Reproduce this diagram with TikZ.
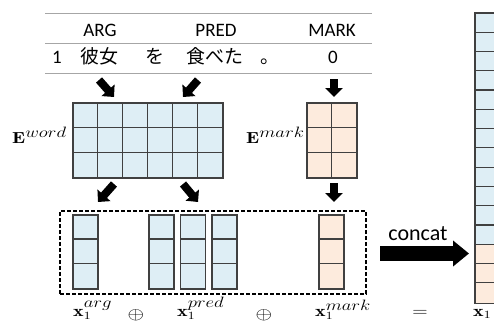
\RequirePackage{fix-cm}
\documentclass[tikz,border=0pt]{standalone}
\usepackage{graphicx}
\usepackage{fontspec}
\newfontfamily\calfont{Carlito}
\newfontfamily\jpfont{Noto Sans CJK JP}
\DeclareMathSizes{16}{16}{15}{11}
\DeclareMathSizes{17}{17}{14}{11}
\usetikzlibrary{arrows.meta}
\definecolor{cellblue}{HTML}{DEEEF5}
\definecolor{cellorange}{HTML}{FDEBDD}
\definecolor{cellline}{HTML}{404040}
\definecolor{rulegray}{HTML}{A6A6A6}
\newcommand{\wlab}[1]{\scalebox{1.25}[1]{#1}}
\newcommand{\xvec}[1]{\mathbf{x}_{\scriptscriptstyle 1}^{#1}}
\begin{document}
\begin{tikzpicture}[x=1pt,y=-1pt,
  hdr/.style={font=\calfont\fontsize{19}{22}\selectfont, anchor=base, inner sep=0pt},
  jp/.style={font=\jpfont\fontsize{19}{22}\selectfont, anchor=base, inner sep=0pt},
  blk/.style={line width=8pt, -{Triangle[length=9pt,width=17pt]}},
  mlabel/.style={font=\fontsize{16}{20}\selectfont, anchor=base west, inner sep=0pt},
  opnode/.style={font=\fontsize{17}{20}\selectfont, inner sep=0pt},
  matbox/.style={draw=cellline, line width=1.2pt, inner sep=0pt},
  grid line/.style={draw=cellline, line width=1.2pt},
  rule/.style={draw=rulegray, line width=1pt}]
\clip (0,0) rectangle (494,324);
\fill[white] (0,0) rectangle (494,324);
% table rules
\coordinate (r1a) at (45,13); \coordinate (r1b) at (372,13);
\coordinate (r2a) at (45,43); \coordinate (r2b) at (372,43);
\coordinate (r3a) at (45,73); \coordinate (r3b) at (372,73);
\draw[rule] (r1a) -- (r1b);
\draw[rule] (r2a) -- (r2b);
\draw[rule] (r3a) -- (r3b);
% headers
\node[hdr] (hArg) at (100,36) {ARG};
\node[hdr] (hPred) at (216,36) {PRED};
\node[hdr] (hMark) at (332,36) {MARK};
% row
\node[hdr] (one) at (57,63) {1};
\node[jp] (kanojo) at (99,63) {彼女};
\node[jp] (wo) at (155,63) {を};
\node[jp] (tabeta) at (215,63) {食べた};
\node[jp] (maru) at (270,63) {。};
\node[hdr] (zero) at (333,63) {0};
% E word matrix
\node[matbox, fill=cellblue, minimum width=150pt, minimum height=75pt] (Ew) at (148,140.5) {};
\foreach \i in {1,...,5} \draw[grid line] ([xshift=\i*25pt]Ew.north west) -- ([xshift=\i*25pt]Ew.south west);
\foreach \j in {1,2} \draw[grid line] ([yshift=-\j*25pt]Ew.north west) -- ([yshift=-\j*25pt]Ew.north east);
\node[matbox, fill=none, minimum width=150pt, minimum height=75pt] at (Ew) {};
% E mark matrix
\node[matbox, fill=cellorange, minimum width=50pt, minimum height=75pt] (Em) at (332,140.5) {};
\draw[grid line] ([xshift=25pt]Em.north west) -- ([xshift=25pt]Em.south west);
\foreach \j in {1,2} \draw[grid line] ([yshift=-\j*25pt]Em.north west) -- ([yshift=-\j*25pt]Em.north east);
% labels
\node[mlabel] (lEw) at (12,143) {\wlab{$\mathbf{E}^{word}$}};
\node[mlabel] (lEm) at (246,143) {\wlab{$\mathbf{E}^{mark}$}};
% arrows top
\coordinate (a1s) at (99,80); \coordinate (a1e) at (114,97);
\coordinate (a2s) at (198,80); \coordinate (a2e) at (183,97);
\coordinate (a3s) at (334,79); \coordinate (a3e) at (334,97);
\draw[blk] (a1s) -- (a1e);
\draw[blk] (a2s) -- (a2e);
\draw[blk] (a3s) -- (a3e);
% arrows bottom
\coordinate (b1s) at (114,184); \coordinate (b1e) at (98,202);
\coordinate (b2s) at (183,184); \coordinate (b2e) at (198,202);
\coordinate (b3s) at (334,183); \coordinate (b3e) at (334,202);
\draw[blk] (b1s) -- (b1e);
\draw[blk] (b2s) -- (b2e);
\draw[blk] (b3s) -- (b3e);
% dashed box
\node[draw=black, line width=1.3pt, dash pattern=on 4pt off 2pt, minimum width=306pt, minimum height=83pt, inner sep=0pt] (dbox) at (213,252.5) {};
% vectors
\foreach \x/\c/\n in {85.5/cellblue/va, 161.5/cellblue/vp1, 193/cellblue/vp2, 224.5/cellblue/vp3, 331.5/cellorange/vm} {
  \node[matbox, fill=\c, minimum width=25pt, minimum height=74pt] (\n) at (\x,252) {};
  \foreach \j in {1,2} \draw[grid line] ([yshift=-\j*24.67pt]\n.north west) -- ([yshift=-\j*24.67pt]\n.north east);
}
% tall column
\node[matbox, fill=cellblue, minimum width=25pt, minimum height=289pt, anchor=north west] (tall) at (475,13) {};
\fill[cellorange] ([yshift=-12*19.267pt]tall.north west) rectangle (tall.south east);
\foreach \j in {1,...,14} \draw[grid line] ([yshift=-\j*19.267pt]tall.north west) -- ([yshift=-\j*19.267pt]tall.north east);
\draw[grid line] (tall.north west) rectangle (tall.south east);
% concat
\node[font=\calfont\fontsize{22}{26}\selectfont, anchor=base, inner sep=0pt] (concat) at (418,240) {concat};
\coordinate (cs) at (380,253.5); \coordinate (ce) at (469,253.5);
\draw[line width=15pt, -{Triangle[length=16pt,width=25pt]}] (cs) -- (ce);
% bottom labels
\node[mlabel] (xa) at (73,316) {\wlab{$\xvec{arg}$}};
\node[opnode] (op1) at (136,315) {\wlab{$\oplus$}};
\node[mlabel] (xp) at (177,316) {\wlab{$\xvec{pred}$}};
\node[opnode] (op2) at (264,315) {\wlab{$\oplus$}};
\node[mlabel] (xm) at (315,316) {\wlab{$\xvec{mark}$}};
\node[opnode] (eq) at (420,313) {\wlab{$=$}};
\node[mlabel] (x1) at (473,316) {\wlab{$\mathbf{x}_{\scriptscriptstyle 1}$}};
\end{tikzpicture}
\end{document}
